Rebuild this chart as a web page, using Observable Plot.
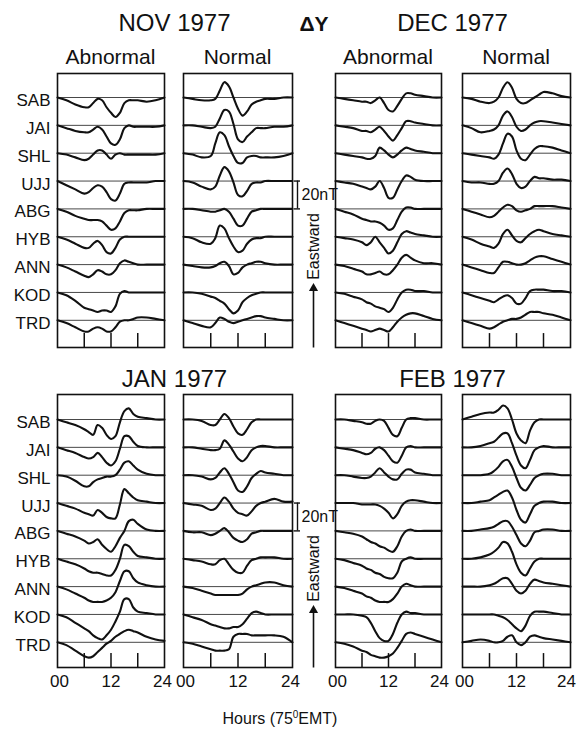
<!DOCTYPE html>
<html><head><meta charset="utf-8">
<script src="https://cdn.jsdelivr.net/npm/d3@7"></script>
<script src="https://cdn.jsdelivr.net/npm/@observablehq/plot@0.6"></script>
<style>
body{margin:0;background:#fff;}
#chart{position:relative;width:578px;height:729px;background:#fff;font-family:"Liberation Sans",Arial,sans-serif;color:#111;}
</style></head><body><div id="chart"></div>
<script>
const hours = [0,2,4,6,7,8,9,10,11,12,13,14,15,16,17,18,20,22,24];
const stations = ["SAB","JAI","SHL","UJJ","ABG","HYB","ANN","KOD","TRD"];
const xTicks = [6,12,18];
const xLabels = [0,12,24];
const spacing = 20;   // nT between station baselines
const scaleBar = 20;  // nT

const novAbnormal = [
 [0,-2,-5,-7,-7,-4,-1,-2,-7,-11,-14,-11,-4,-2,-2,-2,-3,-2,0],
 [0,-2,-4,-5,-5,-3,-1,-3,-8,-13,-14,-10,-2,0,-1,-1,-1,-1,0],
 [0,-1,-3,-5,-4,-1,2,2,-1,-4,-1,0,-1,-1,-1,-1,-1,-1,0],
 [0,-3,-6,-9,-8,-5,-3,-4,-8,-13,-14,-9,-2,-1,-1,-1,-1,0,0],
 [0,-2,-5,-7,-8,-8,-8,-9,-12,-15,-14,-9,-3,-1,-1,-1,0,0,0],
 [0,-2,-5,-8,-8,-5,-3,-6,-11,-12,-8,-2,0,0,0,0,0,0,0],
 [0,-2,-5,-8,-9,-7,-4,-5,-7,-7,-4,1,3,2,1,0,0,0,0],
 [0,-2,-6,-11,-12,-13,-14,-13,-13,-14,-10,-1,1,0,0,0,0,0,0],
 [0,-2,-5,-8,-8,-6,-5,-6,-8,-8,-5,-1,0,0,1,2,2,1,0]
];
const novNormal = [
 [0,-1,-2,-2,-1,5,11,8,0,-8,-13,-10,-5,-3,-2,-1,-1,0,0],
 [0,0,-1,-2,-1,5,11,10,1,-10,-12,-8,-5,-2,-2,-2,-1,-1,0],
 [0,-1,-3,-2,7,15,13,5,-2,-7,-7,-3,-2,-2,-3,-3,-3,-2,0],
 [0,-1,-4,-6,-4,4,10,7,-1,-10,-11,-7,-2,-1,-1,0,0,0,0],
 [0,0,-1,-2,-2,-1,0,-2,-7,-12,-12,-7,-2,-1,0,0,0,0,0],
 [0,-1,-4,-5,-1,8,6,-1,-7,-11,-10,-5,-2,-1,-1,0,0,0,0],
 [0,-1,-2,-2,-1,1,2,-1,-7,-6,-2,0,1,2,2,1,0,0,0],
 [0,0,-1,-3,-4,-6,-8,-12,-15,-13,-7,-4,-2,-1,0,0,0,0,0],
 [0,-2,-4,-5,-2,2,1,-1,-2,-1,0,1,2,3,3,2,1,0,0]
];
const decAbnormal = [
 [0,-1,-2,-3,-3,-4,-2,0,-4,-9,-10,-6,-1,3,3,2,1,0,0],
 [0,-1,-2,-4,-4,-5,-3,-1,-4,-8,-11,-7,-2,3,3,2,1,0,0],
 [0,-1,-2,-3,-4,-4,-2,4,2,-1,-3,-1,2,4,3,2,1,0,0],
 [0,-1,-2,-4,-5,-6,-4,0,-5,-12,-12,-6,0,4,3,1,0,0,0],
 [0,-2,-4,-7,-8,-9,-9,-10,-12,-15,-14,-8,-2,1,1,0,0,0,0],
 [0,-1,-2,-4,-6,-4,0,-4,-8,-12,-10,-4,2,4,3,2,1,0,0],
 [0,-1,-3,-5,-7,-7,-6,-5,-7,-7,-4,0,5,7,5,3,1,1,0],
 [0,-1,-3,-5,-7,-8,-10,-11,-12,-14,-11,-5,0,2,2,1,1,0,0],
 [0,-2,-4,-6,-7,-8,-7,-6,-7,-8,-5,-1,2,4,5,5,3,1,0]
];
const decNormal = [
 [0,-1,-3,-4,-3,0,7,11,7,-1,-4,-4,-2,0,2,4,3,1,0],
 [0,-2,-5,-4,-3,0,7,10,6,-1,-4,-3,0,2,3,3,2,1,0],
 [0,-1,-2,-3,-4,-1,7,14,12,2,-4,-5,-1,3,5,5,4,2,0],
 [0,-1,-1,-2,-2,0,6,9,5,-2,-5,-4,0,3,2,2,1,1,0],
 [0,-2,-4,-6,-5,-2,1,3,2,-1,-2,-1,0,2,2,2,2,1,0],
 [0,-2,-5,-7,-8,-5,2,5,1,-3,-4,-1,2,4,5,4,2,1,0],
 [0,-2,-4,-6,-6,-2,2,2,1,0,0,1,3,5,6,6,4,2,0],
 [0,-2,-4,-6,-7,-5,-3,-2,-4,-8,-8,-4,1,2,2,2,1,1,0],
 [0,-2,-4,-6,-5,-3,-1,0,1,1,2,4,6,6,6,5,4,2,0]
];
const janAbnormal = [
 [0,-2,-4,-7,-9,-11,-4,-6,-11,-14,-12,-2,6,8,4,2,1,0,0],
 [0,-2,-4,-7,-8,-7,-4,-7,-11,-13,-10,-1,8,8,4,1,0,0,0],
 [0,-1,-4,-8,-8,-5,-3,-2,-1,-1,0,4,9,10,7,4,1,0,0],
 [0,-2,-4,-7,-8,-9,-5,-7,-10,-11,-11,-1,10,7,4,2,1,0,0],
 [0,-2,-4,-7,-9,-8,-6,-10,-13,-15,-11,-5,0,7,8,5,1,0,0],
 [0,-2,-4,-7,-9,-10,-10,-11,-12,-12,-8,0,10,9,5,2,1,0,0],
 [0,-2,-5,-8,-10,-11,-11,-11,-10,-8,-4,4,11,11,6,3,1,0,0],
 [0,-2,-6,-10,-12,-15,-17,-18,-15,-11,-5,2,11,11,5,2,1,0,0],
 [0,-2,-6,-10,-11,-10,-7,-4,-1,1,4,6,8,9,8,7,4,2,1]
];
const janNormal = [
 [0,0,-1,-4,-4,0,4,1,-5,-10,-11,-7,-2,0,0,0,0,0,0],
 [0,0,-1,-2,-2,-1,5,2,-3,-8,-10,-7,-2,0,1,1,0,0,0],
 [0,0,-1,-3,-2,2,5,1,-5,-11,-12,-8,-2,1,3,2,1,0,0],
 [0,-1,-2,-5,-4,0,4,1,-4,-7,-8,-9,-6,-2,0,1,3,1,1],
 [0,-1,-1,-3,-2,0,2,-1,-5,-7,-8,-6,-2,-1,0,0,0,0,0],
 [0,-1,-2,-4,-4,-1,0,-4,-8,-10,-10,-5,-1,0,1,1,1,0,0],
 [0,-1,-3,-5,-6,-6,-6,-6,-6,-6,-5,-2,0,1,2,3,3,1,0],
 [0,-2,-4,-7,-8,-9,-10,-10,-9,-9,-7,-3,1,2,1,0,0,0,0],
 [0,-1,-3,-5,-6,-6,-6,-5,4,6,6,6,5,5,5,5,5,4,0]
];
const febAbnormal = [
 [0,0,-1,-2,-3,-3,-1,0,-1,-6,-11,-12,-6,0,1,1,0,0,0],
 [0,-1,-2,-4,-5,-4,-1,0,-2,-6,-10,-11,-6,0,1,0,0,0,0],
 [0,0,-1,-2,-2,-1,2,5,2,-1,-3,-3,1,4,4,2,1,0,0],
 [0,0,0,-1,-1,-1,-1,-2,-4,-7,-11,-8,-2,1,2,2,1,0,0],
 [0,-1,-2,-4,-6,-8,-9,-11,-12,-14,-15,-11,-4,0,1,0,0,0,0],
 [0,-1,-3,-5,-7,-8,-10,-11,-13,-14,-14,-10,-2,0,1,0,0,0,0],
 [0,-1,-3,-5,-7,-8,-10,-11,-11,-11,-9,-5,0,2,1,0,0,0,0],
 [0,0,0,-1,-2,-6,-12,-17,-19,-19,-14,-6,0,2,1,1,0,0,0],
 [0,-1,-3,-6,-7,-9,-10,-11,-11,-10,-8,-4,1,6,7,6,4,2,0]
];
const febNormal = [
 [0,2,4,5,5,7,10,8,0,-10,-15,-17,-8,-2,0,0,0,0,0],
 [0,0,1,3,4,7,10,10,3,-6,-13,-15,-9,-2,0,1,0,0,0],
 [0,0,0,1,3,6,10,11,6,-2,-9,-11,-7,-2,0,1,1,0,0],
 [0,0,1,2,4,6,8,9,4,-5,-12,-14,-8,-2,0,1,1,0,0],
 [0,0,1,2,3,5,7,7,3,-3,-9,-11,-7,-1,0,1,1,0,0],
 [0,0,1,3,5,8,12,11,5,-4,-10,-12,-7,-2,0,0,0,0,0],
 [0,0,0,1,2,4,6,6,2,-3,-5,-3,2,5,4,3,2,1,0],
 [0,0,0,0,0,-1,-2,-4,-7,-10,-12,-8,-1,2,2,2,1,0,0],
 [0,1,2,1,0,0,1,4,5,0,-2,0,4,5,4,3,2,1,0]
];

const months = ["NOV 1977","DEC 1977","JAN 1977","FEB 1977"];
const kinds = ["Abnormal","Normal"];

// ---- layout (pixels) ----
const K = 27.85 / spacing; // px per nT
const colGeom = [{left:57,width:107},{left:183,width:109},{left:335,width:106},{left:462,width:108}];
const rowGeom = [{top:73,height:274,first:97},{top:394,height:273,first:419}];
const ink = "#111";
const font = "'Liberation Sans', Arial, Helvetica, sans-serif";

const chart = document.getElementById("chart");

function rowsOf(values) {
  return values.flatMap((vals, i) => vals.map((v, j) => ({station: stations[i], hour: hours[j], y: v - spacing * i})));
}

function makePanel(values, c, r) {
  const g = colGeom[c], rg = rowGeom[r];
  const yMax = (rg.first - rg.top) / K;
  const yMin = -(rg.top + rg.height - rg.first) / K;
  const mL = c === 0 ? 57 : 1, mR = c === 1 ? 44 : 1, mT = 1, mB = r === 1 ? 34 : 1;
  const pxPerHour = g.width / 24;
  const marks = [
    Plot.ruleY(stations.map((s, i) => -spacing * i), {stroke: "#333", strokeWidth: 0.9}),
    Plot.ruleX(xTicks, {y1: yMin, y2: yMin + 10, stroke: ink, strokeWidth: 1.5}),
    Plot.line(rowsOf(values), {x: "hour", y: "y", z: "station", curve: "catmull-rom", stroke: ink, strokeWidth: 2.1}),
    Plot.frame({stroke: ink, strokeWidth: 1.6})
  ];
  if (c === 0) marks.push(Plot.text(stations, {y: (d, i) => -spacing * i, text: d => d, frameAnchor: "left", textAnchor: "end", dx: -7, dy: 3, fontSize: 17, fill: ink}));
  if (r === 1) {
    const shift = d => d === 0 ? 2 : d === 24 ? (c === 3 ? -4 : -2) : 0;
    for (const d of xLabels) {
      marks.push(Plot.text([d], {x: v => v, text: v => String(v).padStart(2, "0"), frameAnchor: "bottom", lineAnchor: "top", dy: 7, dx: shift(d), fontSize: 17, fill: ink}));
    }
  }
  if (c === 1) {
    const b1 = -3 * spacing, b2 = b1 - scaleBar;
    marks.push(
      Plot.ruleX([24], {y1: b1, y2: b2, dx: 5, stroke: ink, strokeWidth: 1.4}),
      Plot.ruleY([b1, b2], {x1: 24 + 2 / pxPerHour, x2: 24 + 8 / pxPerHour, stroke: ink, strokeWidth: 1.4}),
      Plot.text([`${scaleBar}nT`], {x: 24, y: (b1 + b2) / 2, dx: 9, textAnchor: "start", fontSize: 16, fill: ink}),
      Plot.text(["Eastward"], {x: 24, y: -107, dx: 21, rotate: -90, fontSize: 16, fill: ink}),
      Plot.link([0], {x1: 24, x2: 24, y1: yMin, y2: -138, dx: 21, stroke: ink, strokeWidth: 1.6}),
      Plot.dot([0], {x: 24, y: -137, dx: 21, symbol: "triangle", r: 3.4, fill: ink, stroke: "none"})
    );
  }
  const p = Plot.plot({
    width: mL + g.width + mR, height: mT + rg.height + mB,
    marginLeft: mL, marginRight: mR, marginTop: mT, marginBottom: mB,
    x: {domain: [0, 24], axis: null},
    y: {domain: [yMin, yMax], axis: null},
    style: {background: "transparent", overflow: "visible", fontFamily: font, color: ink},
    marks
  });
  p.style.position = "absolute";
  p.style.left = (g.left - mL) + "px";
  p.style.top = (rg.top - mT) + "px";
  return p;
}

// ---- titles ----
const overlay = d3.create("svg").attr("width", 578).attr("height", 729)
  .style("position", "absolute").style("left", "0").style("top", "0")
  .style("font-family", font).attr("fill", ink);
const colCenter = c => colGeom[c].left + colGeom[c].width / 2;
const pairCenter = p => (colGeom[2 * p].left + colGeom[2 * p + 1].left + colGeom[2 * p + 1].width) / 2;
const labels = [
  {t: months[0], x: pairCenter(0), y: 31, s: 24},
  {t: months[1], x: pairCenter(1), y: 31, s: 24},
  {t: months[2], x: pairCenter(0), y: 387, s: 24},
  {t: months[3], x: pairCenter(1), y: 387, s: 24},
  {t: "ΔY", x: 314, y: 31, s: 21, w: "bold"},
  {t: kinds[0], x: colCenter(0), y: 64, s: 21},
  {t: kinds[1], x: colCenter(1), y: 64, s: 21},
  {t: kinds[0], x: colCenter(2), y: 64, s: 21},
  {t: kinds[1], x: colCenter(3), y: 64, s: 21}
];
overlay.selectAll("text.t").data(labels).join("text").attr("class", "t")
  .attr("x", d => d.x).attr("y", d => d.y).attr("text-anchor", "middle")
  .attr("font-size", d => d.s).attr("font-weight", d => d.w || "normal").text(d => d.t);
const xl = overlay.append("text").attr("x", 280).attr("y", 724).attr("text-anchor", "middle").attr("font-size", 16);
xl.append("tspan").text("Hours  (75");
xl.append("tspan").attr("font-size", 10).attr("dy", -6).text("0");
xl.append("tspan").attr("dy", 6).text("EMT)");
chart.appendChild(overlay.node());

const panels = [
  [novAbnormal, 0, 0], [novNormal, 1, 0], [decAbnormal, 2, 0], [decNormal, 3, 0],
  [janAbnormal, 0, 1], [janNormal, 1, 1], [febAbnormal, 2, 1], [febNormal, 3, 1]
];
for (const [v, c, r] of panels) chart.appendChild(makePanel(v, c, r));
</script></body></html>
